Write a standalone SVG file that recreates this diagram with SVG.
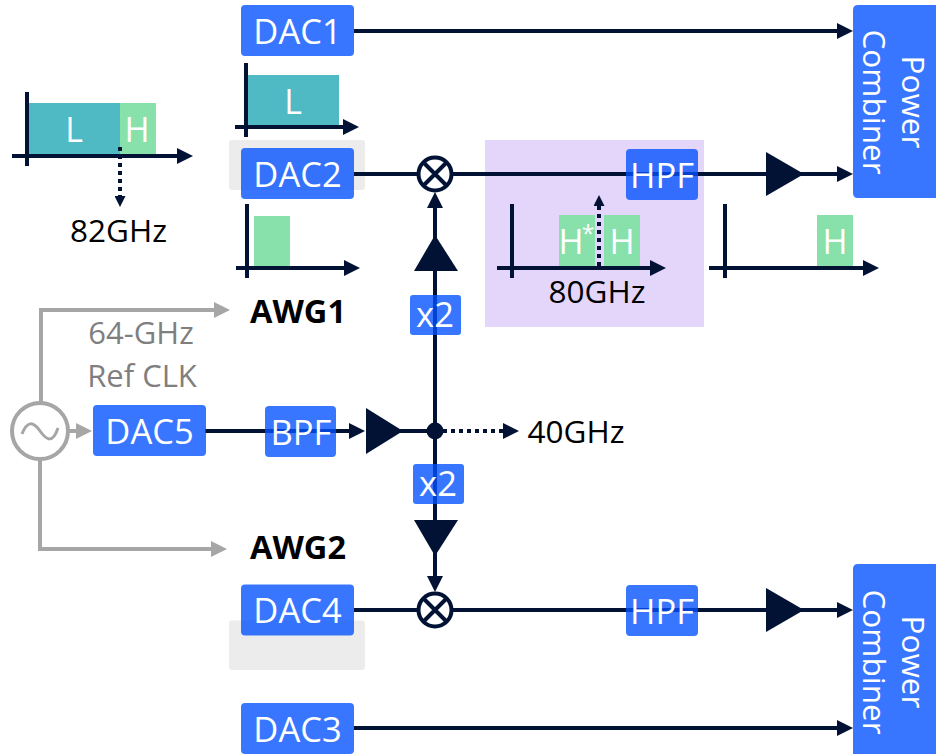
<svg xmlns="http://www.w3.org/2000/svg" width="936" height="754" viewBox="0 0 936 754">
<style>
text{font-family:"Open Sans","Noto Sans","Liberation Sans",sans-serif;text-anchor:middle}
.box{fill:#0050ff;fill-opacity:.78}
.w{fill:#fff;font-size:34.500px}
.s{fill:#fff;font-size:34px}
.c{fill:#fff;font-size:31.500px}
.k{fill:#000;font-size:31.500px}
.g{fill:#7f7f7f;font-size:31px}
.b{fill:#000;font-size:32.500px;font-weight:700}
.l{fill:none;stroke:#021235;stroke-width:4}
.d{fill:none;stroke:#021235;stroke-width:4;stroke-dasharray:4 4}
.y{fill:none;stroke:#a6a6a6;stroke-width:4}
.tri{fill:#021235}
.teal{fill:#4fb9c4}
.green{fill:#88e0aa}
.panel{fill:#ececec}
</style>
<defs>
<marker id="a" markerUnits="userSpaceOnUse" markerWidth="16" markerHeight="16" viewBox="0 0 16 16" refX="8" refY="8" orient="auto"><path d="M0 0L16 8L0 16Z" fill="#021235"/></marker>
<marker id="sm" markerUnits="userSpaceOnUse" markerWidth="11" markerHeight="11" viewBox="0 0 11 11" refX="5" refY="5.5" orient="auto"><path d="M0 0L11 5.5L0 11Z" fill="#021235"/></marker>
<marker id="ag" markerUnits="userSpaceOnUse" markerWidth="16" markerHeight="16" viewBox="0 0 16 16" refX="8" refY="8" orient="auto"><path d="M0 0L16 8L0 16Z" fill="#a6a6a6"/></marker>
</defs>
<rect class="panel" x="229" y="140" width="136" height="50" rx="3"/>
<rect class="panel" x="229" y="620.500" width="136" height="49.500" rx="3"/>
<rect x="485" y="140" width="219" height="187" fill="#e4d6fa"/>
<g id="spectrum-input">
<rect class="teal" x="29" y="103" width="91" height="53"/><rect class="green" x="120" y="103" width="36" height="53"/>
<text class="s" x="74" y="142">L</text><text class="s" x="137" y="142">H</text>
<path class="l" d="M27 92V166M12 156H185" marker-end="url(#a)"/>
</g>
<g id="spectrum-l">
<rect class="teal" x="248" y="75" width="91" height="52"/><text class="s" x="293" y="114">L</text>
<path class="l" d="M246 63V137M235 127H351" marker-end="url(#a)"/>
</g>
<g id="spectrum-h">
<rect class="green" x="254" y="216" width="36" height="52"/>
<path class="l" d="M247 204V278M236 268H352" marker-end="url(#a)"/>
</g>
<g id="spectrum-mixed">
<rect class="green" x="559" y="215" width="36" height="53"/><rect class="green" x="604" y="215" width="36" height="53"/>
<text class="s" x="571" y="254">H</text><text x="588" y="242" fill="#fff" font-size="23">*</text><text class="s" x="622" y="254">H</text>
<path class="l" d="M512 204V278M497 268H658" marker-end="url(#a)"/>
</g>
<g id="spectrum-out">
<rect class="green" x="817" y="215" width="36" height="53"/><text class="s" x="835" y="254">H</text>
<path class="l" d="M725 204V278M709 268H871" marker-end="url(#a)"/>
</g>
<g id="connectors">
<path class="l" d="M354 31H845" marker-end="url(#a)"/>
<path class="l" d="M354 174H418M452 174H845" marker-end="url(#a)"/>
<path class="l" d="M354 610H418M452 610H845" marker-end="url(#a)"/>
<path class="l" d="M354 728H845" marker-end="url(#a)"/>
<path class="l" d="M205 431H357" marker-end="url(#a)"/>
<path class="l" d="M400 431H435"/>
<path class="l" d="M435 431V200" marker-end="url(#a)"/>
<path class="l" d="M435 431V584" marker-end="url(#a)"/>
<path class="d" d="M443 431H511" marker-end="url(#a)"/>
<path class="d" d="M120 147V201" marker-end="url(#sm)"/>
<path class="d" d="M599 266V201" marker-end="url(#sm)"/>
<path class="y" d="M41 402V310H222" marker-end="url(#ag)"/>
<path class="y" d="M40 460V549H219" marker-end="url(#ag)"/>
<path class="y" d="M69 431H84" marker-end="url(#ag)"/>
</g>
<g id="amp-1"><path class="tri" d="M766 152V196L804 174Z"/></g>
<g id="amp-2"><path class="tri" d="M766 588V632L804 610Z"/></g>
<g id="amp-3"><path class="tri" d="M366 408V454L403 431Z"/></g>
<g id="amp-4"><path class="tri" d="M414 271H458L435 235Z"/></g>
<g id="amp-5"><path class="tri" d="M414 520H458L435 556Z"/></g>
<circle cx="435" cy="431" r="8.500" fill="#021235"/>
<g id="mixer-1"><circle cx="435" cy="174" r="16.500" fill="#fff" stroke="#021235" stroke-width="4"/><path class="l" d="M423.500 162.500L446.500 185.500M446.500 162.500L423.500 185.500"/></g>
<g id="mixer-2"><circle cx="435" cy="610" r="16.500" fill="#fff" stroke="#021235" stroke-width="4"/><path class="l" d="M423.500 598.500L446.500 621.500M446.500 598.500L423.500 621.500"/></g>
<g id="osc"><circle cx="40" cy="431" r="28" fill="#fff" stroke="#a6a6a6" stroke-width="4"/><path d="M22 434C27 421 33 421 40 431S53 443 58 428" fill="none" stroke="#a6a6a6" stroke-width="3"/></g>
<g id="dac1"><rect class="box" x="241" y="5" width="113" height="51" rx="4"/><text class="w" x="297.500" y="43.500">DAC1</text></g>
<g id="dac2"><rect class="box" x="241" y="148" width="113" height="51" rx="4"/><text class="w" x="297.500" y="186.500">DAC2</text></g>
<g id="dac3"><rect class="box" x="241" y="703" width="113" height="51" rx="4"/><text class="w" x="297.500" y="741.500">DAC3</text></g>
<g id="dac4"><rect class="box" x="241" y="584.500" width="113" height="51" rx="4"/><text class="w" x="297.500" y="623">DAC4</text></g>
<g id="dac5"><rect class="box" x="93" y="405" width="113" height="51" rx="4"/><text class="w" x="149.500" y="444">DAC5</text></g>
<g id="bpf"><rect class="box" x="265" y="406" width="71" height="51" rx="4"/><text class="w" x="301" y="445">BPF</text></g>
<g id="hpf1"><rect class="box" x="626" y="149" width="72" height="51" rx="4"/><text class="w" x="662" y="187.500">HPF</text></g>
<g id="hpf2"><rect class="box" x="626" y="585" width="72" height="51" rx="4"/><text class="w" x="662" y="623.500">HPF</text></g>
<g id="x2-1"><rect class="box" x="410" y="295" width="51" height="40" rx="3"/><text class="w" x="435" y="327">x2</text></g>
<g id="x2-2"><rect class="box" x="413" y="464" width="51" height="40" rx="3"/><text class="w" x="438" y="496">x2</text></g>
<g id="combiner-1"><path class="box" d="M858 5H936V198H858Q853 198 853 193V10Q853 5 858 5Z"/><text class="c" transform="translate(863 102) rotate(90)">Combiner</text><text class="c" transform="translate(902 102) rotate(90)">Power</text></g>
<g id="combiner-2"><path class="box" d="M858 564H936V754H853V569Q853 564 858 564Z"/><text class="c" transform="translate(863 662) rotate(90)">Combiner</text><text class="c" transform="translate(902 662) rotate(90)">Power</text></g>
<text class="k" x="118.500" y="242">82GHz</text>
<text class="k" x="597" y="303">80GHz</text>
<text class="k" x="576" y="443">40GHz</text>
<text class="g" x="141" y="344">64-GHz</text>
<text class="g" x="142" y="387">Ref CLK</text>
<text class="b" x="298" y="323">AWG1</text>
<text class="b" x="298" y="559">AWG2</text>
</svg>
